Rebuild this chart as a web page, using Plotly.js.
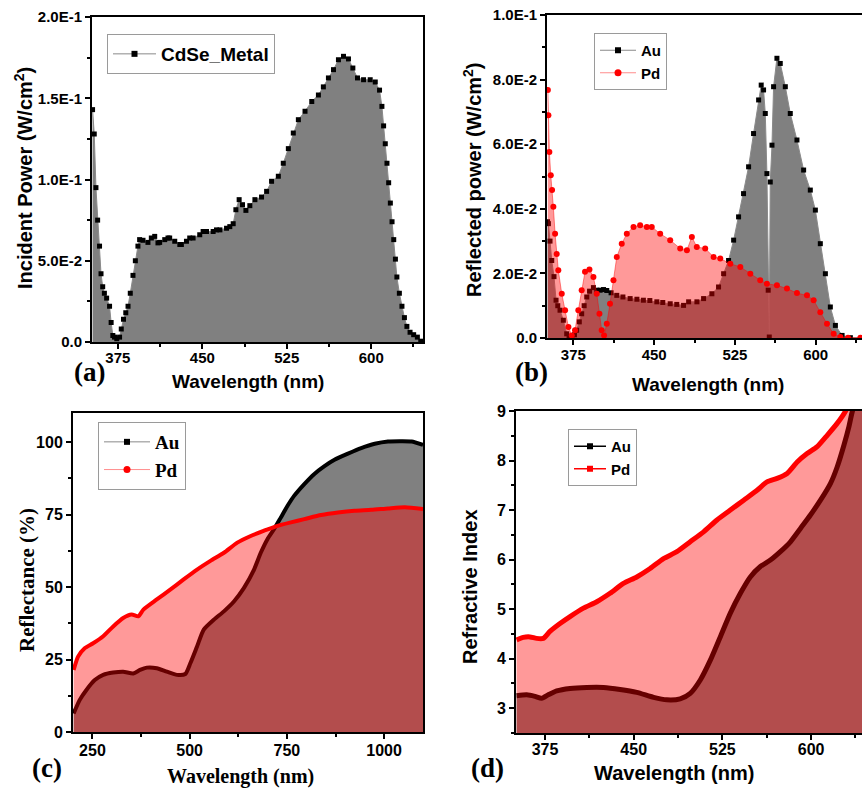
<!DOCTYPE html>
<html>
<head>
<meta charset="utf-8">
<script src="https://cdn.plot.ly/plotly-3.0.1.min.js"></script>
<style>html,body{margin:0;padding:0;background:#fff;}#chart{width:862px;height:788px;}</style>
</head>
<body>
<div id="chart"></div>
<script>
// ---------- Panel (a): incident power ----------
const a_wavelength = [352.5,354,355.5,357,358.7,360,361.5,363,365,367.6,369,370.5,372,374,376.5,378,380,382,384,386,388.4,390.5,392.8,394.3,397.3,401.7,404.7,407.7,410.6,412.1,416.6,419.5,421,425.5,430,431.4,435.9,438.8,441.8,447.7,450.7,453.7,459.6,462.6,465.6,471.5,474.4,477.4,479.8,482.7,485.7,488.7,492.2,496.7,502.6,507.1,511.5,517.5,521.9,526.4,530.8,535.3,541.2,547.2,553.1,557.5,562,566.5,570.9,575.4,579.8,583.7,587.8,593.2,599.1,603.6,607.4,609.5,611,612.5,614,615.5,617,618.5,620,621.5,622.8,625,627.3,629.5,631.7,634.5,637.7,641,644];
const a_power = [0.143,0.128,0.095,0.075,0.059,0.042,0.034,0.030,0.027,0.022,0.012,0.004,0.003,0.002,0.003,0.008,0.014,0.018,0.022,0.030,0.041,0.050,0.059,0.063,0.0626,0.0613,0.064,0.065,0.061,0.0613,0.063,0.064,0.064,0.062,0.060,0.060,0.062,0.064,0.064,0.066,0.068,0.068,0.068,0.069,0.069,0.070,0.071,0.0728,0.0814,0.0876,0.0845,0.081,0.0839,0.0876,0.0892,0.0927,0.0989,0.102,0.110,0.119,0.1286,0.1368,0.142,0.148,0.152,0.157,0.1625,0.1676,0.1737,0.1758,0.1742,0.1686,0.1625,0.1614,0.1614,0.160,0.155,0.145,0.133,0.122,0.110,0.098,0.0855,0.074,0.063,0.051,0.040,0.030,0.022,0.015,0.0096,0.006,0.0045,0.003,0.0005];
const a_ytickvals = [0,0.05,0.1,0.15,0.2];
const a_yticktext = ['0.0','5.0E-2','1.0E-1','1.5E-1','2.0E-1'];

// ---------- Panel (b): reflected power ----------
const b_au_wavelength = [351,351.8,353.3,354.9,357,358.9,360.5,362.6,365.7,368.8,371,373.5,376,378,380.5,382.7,385,387.4,390,393.6,396.7,399.8,403,406,410,415.3,421,427.7,434,440,446,452.5,458,464.9,471,477.3,482,489.7,495.9,503.6,509.8,514.5,519.1,523.8,528.4,533,537.7,542.3,547,549.4,551.6,553.2,554.7,555.9,556.9,557.8,559.4,560.9,564,567.1,571.8,576.4,582.6,588.8,595,599.7,604.3,609,613.6,618.3,624.5,632.2,643];
const b_au_power = [0.036,0.0354,0.030,0.024,0.019,0.0117,0.010,0.0086,0.0055,0.0013,0.0005,0.0003,0.001,0.0024,0.005,0.0075,0.010,0.0127,0.0145,0.0156,0.0148,0.0148,0.0150,0.0147,0.0140,0.0132,0.0127,0.0122,0.0120,0.0117,0.0116,0.0112,0.0110,0.0106,0.0104,0.0101,0.0112,0.0112,0.0122,0.0137,0.0158,0.0199,0.024,0.0303,0.0375,0.0447,0.053,0.0633,0.0737,0.0783,0.0768,0.0695,0.0509,0.0148,0.0003,0.0483,0.0597,0.0778,0.0866,0.085,0.0778,0.0695,0.0613,0.052,0.0458,0.0396,0.0292,0.0199,0.0096,0.0039,0.0008,0.0001,0];
const b_pd_wavelength = [351.3,351.8,352.7,354,355.2,356.4,358,359.5,361,364.2,367.3,370.4,373.5,376.5,379.6,382.7,385.8,389.9,393.6,396.7,399.2,401.3,403.5,406,409,412.2,415.3,419.9,424.6,430.8,437,443.2,447.8,455.6,464.9,474.2,480.4,485,489.6,497.4,505.2,511.4,520.7,530,539.3,548.5,554.7,564,573.3,582.6,591.9,598.1,604.3,610.5,616.7,622.9,630,641.5];
const b_pd_power = [0.0768,0.069,0.0576,0.0504,0.0458,0.0406,0.0323,0.026,0.021,0.0137,0.0086,0.0034,0.0008,0.0024,0.0086,0.0148,0.0205,0.0212,0.0189,0.0137,0.0075,0.0024,0.0008,0.0044,0.0106,0.0179,0.0251,0.0292,0.0323,0.0344,0.0349,0.0344,0.0344,0.0323,0.0303,0.0277,0.0272,0.0313,0.0282,0.0277,0.0251,0.0246,0.023,0.022,0.0199,0.0179,0.0168,0.0163,0.0153,0.0139,0.0132,0.0117,0.008,0.0044,0.0013,0.0003,0.0001,0.0001];
const b_ytickvals = [0,0.02,0.04,0.06,0.08,0.1];
const b_yticktext = ['0.0','2.0E-2','4.0E-2','6.0E-2','8.0E-2','1.0E-1'];

// ---------- Panel (c): reflectance ----------
const c_au_wavelength = [201.7,217,234.5,256,277.6,303.4,329,355,372.4,389.7,415.5,441.4,467.2,488.8,501.7,519,536.2,562,588,613.8,639.7,665.5,682.8,700,717.2,734.5,751.7,769,794.8,820.7,846.6,872.4,907,941,975.9,1010,1044.8,1070.7,1100];
const c_au_reflectance = [6.4,11,14.5,17.9,19.7,20.5,20.8,20.2,21.4,22.2,22,20.8,19.7,20,23.7,29.5,35.3,38.7,41.6,45,49.7,56,61.8,66.5,70,74,78,81.5,85.5,89,91.7,93.9,96,97.9,99.4,100.2,100.3,100.2,99];
const c_pd_wavelength = [201.7,213,230,251.7,277.6,303.4,329,350.9,368,381,415.5,450,484.5,519,553.4,588,622.4,657,691.4,725.9,760.3,794.8,837.9,881,924,967,1010,1053.4,1100];
const c_pd_reflectance = [21.4,26,28.9,30.6,33,36.4,39.3,40.5,39.9,42.2,45.7,49.1,52.6,56,59,61.8,65.3,67.6,69.4,71.1,72.3,73.4,74.8,75.7,76.3,76.6,77.1,77.5,76.9];

// ---------- Panel (d): refractive index ----------
const d_au_wavelength = [351,359.5,366.5,372.2,377.8,384.9,396.2,410.3,424.4,438.5,452.6,466.8,478,489.3,497.8,506.3,514.8,523.2,531.7,540.2,548.6,557.1,565.6,574,582.5,591,599.4,607.9,616.4,622,627.7,631.9,634.7,643];
const d_au_index = [3.25,3.27,3.24,3.2,3.27,3.35,3.4,3.42,3.42,3.38,3.32,3.22,3.17,3.19,3.3,3.57,3.97,4.44,4.92,5.32,5.65,5.86,5.99,6.16,6.36,6.63,6.9,7.2,7.54,7.87,8.31,8.68,8.98,9.6];
const d_pd_wavelength = [351,356.6,362.3,367.9,373.6,379.2,387.7,396.2,407.5,418.8,430,441.3,452.6,463.9,475.2,486.5,497.8,509.1,520.4,531.7,543,554.3,562.7,571.2,579.7,588.2,596.6,605.1,613.6,622,629.1,643];
const d_pd_index = [4.38,4.43,4.44,4.41,4.41,4.55,4.71,4.85,5.02,5.15,5.32,5.52,5.65,5.82,6.02,6.16,6.36,6.56,6.8,7.0,7.2,7.4,7.57,7.64,7.74,7.97,8.14,8.28,8.51,8.75,9.0,9.8];

// ---------- styling ----------
const W = 862, H = 788;
const px = v => v / W;
const py = v => 1 - v / H;
const SANS = 'Liberation Sans, Arial, sans-serif';
const SERIF = 'Liberation Serif, Times New Roman, serif';
const GREY = '#808080';
const PD_FILL = 'rgba(255,0,0,0.4)';
const GREY_LINE = '#8a8a8a';
const PINK_LINE = 'rgba(255,0,0,0.45)';

function legendEntry(name, xa, ya, legendId, lineColor, lineWidth, symbol, size, mColor) {
  return {x: [null], y: [null], xaxis: xa, yaxis: ya, name: name, legend: legendId,
    type: 'scatter', mode: 'lines+markers', line: {color: lineColor, width: lineWidth},
    marker: {symbol: symbol, size: size, color: mColor}};
}

const traces = [
  {x: a_wavelength, y: a_power, xaxis: 'x', yaxis: 'y', name: 'CdSe_Metal', showlegend: false,
   type: 'scatter', mode: 'lines+markers', fill: 'tozeroy', fillcolor: GREY,
   line: {color: GREY_LINE, width: 1}, marker: {symbol: 'square', size: 5, color: '#000'}},
  legendEntry('CdSe_Metal', 'x', 'y', 'legend', GREY_LINE, 1, 'square', 6, '#000'),

  {x: b_au_wavelength, y: b_au_power, xaxis: 'x2', yaxis: 'y2', name: 'Au', showlegend: false,
   type: 'scatter', mode: 'lines+markers', fill: 'tozeroy', fillcolor: GREY,
   line: {color: GREY_LINE, width: 1}, marker: {symbol: 'square', size: 5, color: '#000'}},
  {x: b_pd_wavelength, y: b_pd_power, xaxis: 'x2', yaxis: 'y2', name: 'Pd', showlegend: false,
   type: 'scatter', mode: 'lines+markers', fill: 'tozeroy', fillcolor: PD_FILL,
   line: {color: PINK_LINE, width: 1}, marker: {symbol: 'circle', size: 6, color: '#f00'}},
  legendEntry('Au', 'x2', 'y2', 'legend2', GREY_LINE, 1, 'square', 6, '#000'),
  legendEntry('Pd', 'x2', 'y2', 'legend2', PINK_LINE, 1, 'circle', 7, '#f00'),

  {x: c_au_wavelength, y: c_au_reflectance, xaxis: 'x3', yaxis: 'y3', name: 'Au', showlegend: false,
   type: 'scatter', mode: 'lines', fill: 'tozeroy', fillcolor: GREY,
   line: {color: '#000', width: 4, shape: 'spline', smoothing: 0.6}},
  {x: c_pd_wavelength, y: c_pd_reflectance, xaxis: 'x3', yaxis: 'y3', name: 'Pd', showlegend: false,
   type: 'scatter', mode: 'lines', fill: 'tozeroy', fillcolor: PD_FILL,
   line: {color: '#f00', width: 4, shape: 'spline', smoothing: 0.6}},
  legendEntry('Au', 'x3', 'y3', 'legend3', GREY_LINE, 1, 'square', 6, '#000'),
  legendEntry('Pd', 'x3', 'y3', 'legend3', PINK_LINE, 1, 'circle', 7, '#f00'),

  {x: d_au_wavelength, y: d_au_index, xaxis: 'x4', yaxis: 'y4', name: 'Au', showlegend: false,
   type: 'scatter', mode: 'lines', fill: 'tozeroy', fillcolor: GREY,
   line: {color: '#000', width: 5, shape: 'spline', smoothing: 0.6}},
  {x: d_pd_wavelength, y: d_pd_index, xaxis: 'x4', yaxis: 'y4', name: 'Pd', showlegend: false,
   type: 'scatter', mode: 'lines', fill: 'tozeroy', fillcolor: PD_FILL,
   line: {color: '#f00', width: 5, shape: 'spline', smoothing: 0.6}},
  legendEntry('Au', 'x4', 'y4', 'legend4', '#000', 1.5, 'square', 6, '#000'),
  legendEntry('Pd', 'x4', 'y4', 'legend4', '#f00', 1.5, 'square', 6, '#f00')
];

const MINOR = {ticks: 'outside', ticklen: 3, tickwidth: 2, tickcolor: '#000'};
function axis(extra, fsize) {
  return Object.assign({
    showline: true, linecolor: '#000', linewidth: 2, mirror: true,
    showgrid: false, zeroline: false, ticks: 'outside', ticklen: 5, tickwidth: 2, tickcolor: '#000',
    tickfont: {family: SANS, size: fsize || 15, color: '#000', weight: 'bold'},
    automargin: false, fixedrange: true
  }, extra);
}

function legendBox(x, y, family, size, itemwidth) {
  return {x: x, y: y, xanchor: 'left', yanchor: 'top', bgcolor: '#fff',
    bordercolor: '#9a9a9a', borderwidth: 1, itemwidth: itemwidth, tracegroupgap: 0,
    font: {family: family, size: size, color: '#000', weight: 'bold'}};
}

function ann(text, x, y, family, size, angle) {
  return {text: text, x: px(x), y: py(y), xref: 'paper', yref: 'paper', showarrow: false,
    xanchor: 'center', yanchor: 'middle', textangle: angle || 0,
    font: {family: family, size: size, color: '#000', weight: 'bold'}};
}

const layout = {
  width: W, height: H, margin: {l: 0, r: 0, t: 0, b: 0},
  paper_bgcolor: '#fff', plot_bgcolor: '#fff', showlegend: true,
  font: {family: SANS, color: '#000'},
  xaxis: axis({domain: [px(92), px(423)], range: [352, 646], anchor: 'y',
    tickmode: 'linear', tick0: 375, dtick: 75, ticklabelstandoff: -4,
    minor: Object.assign({tick0: 375, dtick: 37.5}, MINOR)}),
  yaxis: axis({domain: [py(342), py(17)], range: [0, 0.2], anchor: 'x',
    tickmode: 'array', tickvals: a_ytickvals, ticktext: a_yticktext,
    minor: Object.assign({tick0: 0, dtick: 0.025}, MINOR)}),
  xaxis2: axis({domain: [px(547), 1], range: [350.5, 643], anchor: 'y2',
    tickmode: 'linear', tick0: 375, dtick: 75, ticklabelstandoff: -3,
    minor: Object.assign({tick0: 375, dtick: 37.5}, MINOR)}),
  yaxis2: axis({domain: [py(338), py(15)], range: [0, 0.1], anchor: 'x2', mirror: false,
    tickmode: 'array', tickvals: b_ytickvals, ticktext: b_yticktext,
    minor: Object.assign({tick0: 0, dtick: 0.01}, MINOR)}),
  xaxis3: axis({domain: [px(73), px(423)], range: [200, 1100], anchor: 'y3',
    tickmode: 'linear', tick0: 250, dtick: 250, ticklabelstandoff: -2,
    minor: Object.assign({tick0: 250, dtick: 125}, MINOR)}, 16),
  yaxis3: axis({domain: [py(732), py(413)], range: [0, 110], anchor: 'x3',
    tickmode: 'linear', tick0: 0, dtick: 25,
    minor: Object.assign({tick0: 0, dtick: 12.5}, MINOR)}, 16),
  xaxis4: axis({domain: [px(516), 1], range: [350.5, 643], anchor: 'y4',
    tickmode: 'linear', tick0: 375, dtick: 75, ticklabelstandoff: -4,
    minor: Object.assign({tick0: 375, dtick: 37.5}, MINOR)}, 16),
  yaxis4: axis({domain: [py(733), py(411)], range: [2.5, 9], anchor: 'x4', mirror: false,
    tickmode: 'linear', tick0: 3, dtick: 1,
    minor: Object.assign({tick0: 3, dtick: 0.5}, MINOR)}, 16),
  legend: legendBox(px(107), py(34), SANS, 19, 43),
  legend2: legendBox(px(594), py(33), SANS, 15, 36),
  legend3: legendBox(px(98), py(422), SERIF, 19, 46),
  legend4: legendBox(px(568), py(429), SANS, 15, 32),
  annotations: [
    ann('Wavelength (nm)', 248, 381, SANS, 19),
    ann('Incident Power (W/cm<sup>2</sup>)', 23, 178, SANS, 20, -90),
    ann('(a)', 89, 372, SERIF, 27),
    ann('Wavelength (nm)', 708, 384, SANS, 19),
    ann('Reflected power (W/cm<sup>2</sup>)', 472, 180, SANS, 20, -90),
    ann('(b)', 531, 372, SERIF, 27),
    ann('Wavelength (nm)', 240, 776, SERIF, 20),
    ann('Reflectance (%)', 27, 580, SERIF, 21, -90),
    ann('(c)', 47, 768, SERIF, 27),
    ann('Wavelength (nm)', 674, 773, SANS, 20),
    ann('Refractive Index', 470, 586, SANS, 20, -90),
    ann('(d)', 487, 768, SERIF, 27)
  ]
};

Plotly.newPlot('chart', traces, layout, {staticPlot: true, displayModeBar: false});
</script>
</body>
</html>
